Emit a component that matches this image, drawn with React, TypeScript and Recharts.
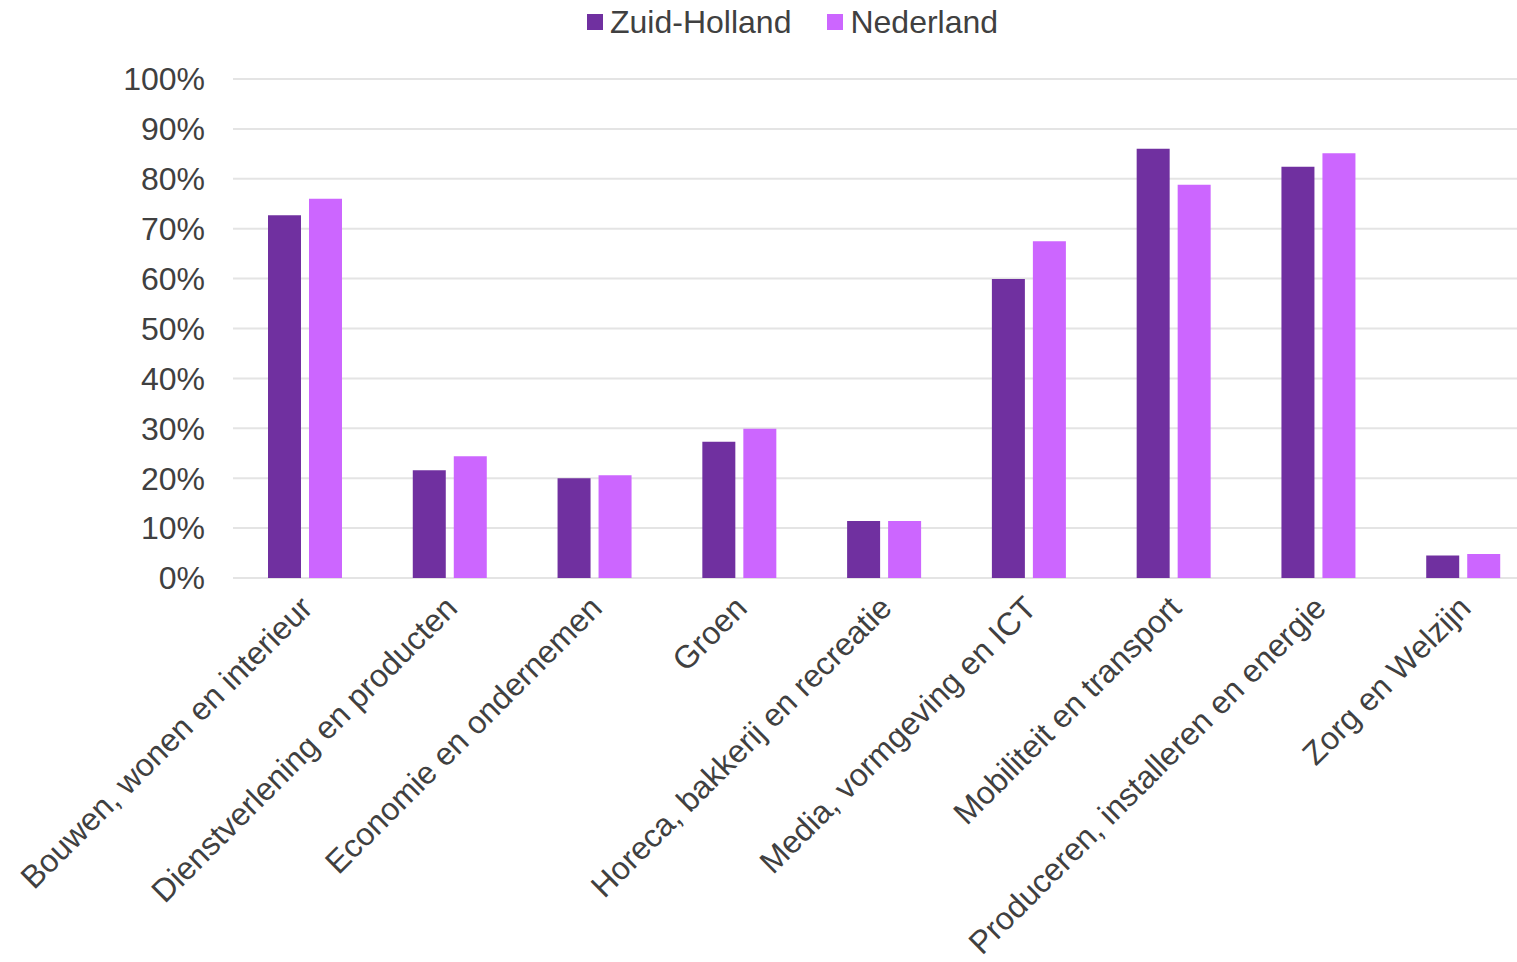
import { BarChart, Bar, XAxis, YAxis, CartesianGrid } from 'recharts'

const categories = [
  'Bouwen, wonen en interieur',
  'Dienstverlening en producten',
  'Economie en ondernemen',
  'Groen',
  'Horeca, bakkerij en recreatie',
  'Media, vormgeving en ICT',
  'Mobiliteit en transport',
  'Produceren, installeren en energie',
  'Zorg en Welzijn',
]
const zuidHolland = [72.7, 21.6, 20.0, 27.3, 11.4, 59.9, 86.0, 82.4, 4.5]
const nederland = [76.0, 24.4, 20.6, 29.9, 11.4, 67.5, 78.8, 85.1, 4.8]
const yTicks = [0, 10, 20, 30, 40, 50, 60, 70, 80, 90, 100]

const series = [
  { key: 'zh', name: 'Zuid-Holland', color: '#7030A0' },
  { key: 'nl', name: 'Nederland', color: '#CC66FF' },
]

const data = categories.map((c, i) => ({ cat: c, zh: zuidHolland[i], nl: nederland[i] }))

const FONT = '"Liberation Sans", Arial, sans-serif'
const TEXT = '#404040'

function CatTick(props: any) {
  const { x, y, payload } = props
  return (
    <g transform={`translate(${x + 9},${y + 32})`}>
      <text
        x={0}
        y={0}
        textAnchor="end"
        transform="rotate(-45)"
        fill={TEXT}
        fontSize={32}
        fontFamily={FONT}
      >
        {payload.value}
      </text>
    </g>
  )
}

export default function App() {
  return (
    <div
      style={{
        position: 'fixed',
        left: 0,
        top: 0,
        width: 1517,
        height: 962,
        overflow: 'hidden',
        background: '#fff',
        fontFamily: FONT,
      }}
    >
      <div
        style={{
          position: 'absolute',
          top: 4,
          left: 587,
          display: 'flex',
          alignItems: 'center',
          fontSize: 32,
          color: TEXT,
          lineHeight: '36px',
          whiteSpace: 'nowrap',
        }}
      >
        {series.map((s, i) => (
          <div key={s.key} style={{ display: 'flex', alignItems: 'center', marginRight: i === 0 ? 36 : 0 }}>
            <span style={{ width: 16, height: 16, background: s.color, display: 'inline-block', marginRight: 7 }} />
            <span>{s.name}</span>
          </div>
        ))}
      </div>
      <BarChart
        width={1560}
        height={962}
        data={data}
        margin={{ top: 79, right: 24, left: 0, bottom: 0 }}
        barSize={33}
        barGap={8}
      >
        <CartesianGrid vertical={false} stroke="#E4E4E4" strokeWidth={2} />
        <XAxis
          dataKey="cat"
          interval={0}
          height={384}
          axisLine={false}
          tickLine={false}
          tickSize={0}
          tickMargin={0}
          tick={<CatTick />}
        />
        <YAxis
          width={233}
          domain={[0, 100]}
          ticks={yTicks}
          axisLine={false}
          tickLine={false}
          tickSize={0}
          tickMargin={28}
          tickFormatter={(v) => `${v}%`}
          tick={{ fill: TEXT, fontSize: 32, fontFamily: FONT }}
        />
        {series.map((s) => (
          <Bar key={s.key} dataKey={s.key} name={s.name} fill={s.color} isAnimationActive={false} />
        ))}
      </BarChart>
    </div>
  )
}
